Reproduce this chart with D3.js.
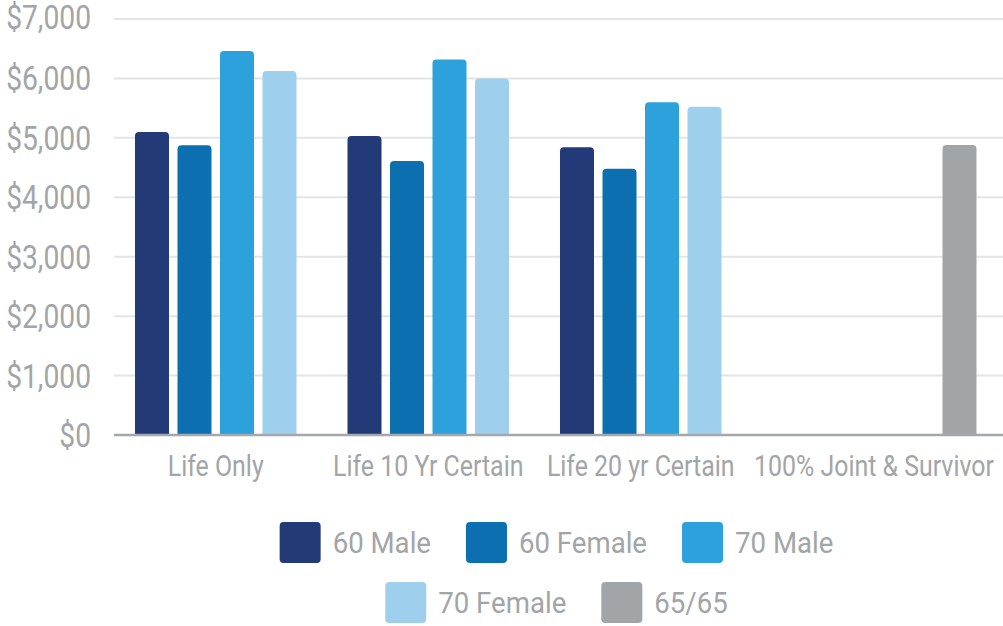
<!DOCTYPE html>
<html><head><meta charset="utf-8">
<script src="https://cdn.jsdelivr.net/npm/d3@7"></script>
<style>
body{margin:0;background:#fff}
text{font-family:Roboto, "Liberation Sans", sans-serif; fill:#a2a5a8}
</style></head>
<body><svg id="c" width="1003" height="626"></svg>
<script>
const categories = ["Life Only", "Life 10 Yr Certain", "Life 20 yr Certain", "100% Joint & Survivor"];
const seriesNames = ["60 Male", "60 Female", "70 Male", "70 Female", "65/65"];
const male60   = [5100, 5030, 4840, null];
const female60 = [4875, 4610, 4480, null];
const male70   = [6460, 6320, 5600, null];
const female70 = [6125, 6000, 5525, null];
const both6565 = [null, null, null, 4880];
const yTicks = [0, 1000, 2000, 3000, 4000, 5000, 6000, 7000];
const colors = ["#233a78", "#0c70b0", "#2ca1dc", "#9ed0ee", "#a2a5a8"];

const seriesValues = [male60, female60, male70, female70, both6565];

const svg = d3.select("#c");
function condense(sel, k){
  sel.each(function(){
    const l = this.getComputedTextLength();
    d3.select(this).attr("textLength", l*k).attr("lengthAdjust","spacingAndGlyphs");
  });
}

const y = d3.scaleLinear().domain([0, 7000]).range([435, 19]);
const x0 = d3.scaleBand().domain(categories).range([130.75, 980.75]).padding(0);
const x1 = d3.scaleBand().domain(seriesNames).range([0, x0.bandwidth()]).paddingInner(0.2).paddingOuter(0.1);

// gridlines
svg.append("g").selectAll("line").data(yTicks.filter(d=>d>0)).join("line")
  .attr("x1",114).attr("x2",1003).attr("y1",d=>y(d)).attr("y2",d=>y(d))
  .attr("stroke","#e4e4e4").attr("stroke-width",2);

// y labels
svg.append("g").selectAll("text").data(yTicks).join("text")
  .attr("x",91).attr("y",d=>y(d) + (d===7000?-2:0))
  .attr("dy","0.355em").attr("text-anchor","end")
  .style("font-size","34px")
  .text(d=>d3.format("$,")(d))
  .call(condense, 0.83);

// bars
function topRounded(x, yTop, w, h, r){
  r = Math.min(r, h, w/2);
  return `M${x},${yTop+h}V${yTop+r}Q${x},${yTop} ${x+r},${yTop}H${x+w-r}Q${x+w},${yTop} ${x+w},${yTop+r}V${yTop+h}Z`;
}
const rows = [];
categories.forEach((c,ci)=>{
  seriesNames.forEach((s,si)=>{
    const v = seriesValues[si][ci];
    if(v!=null) rows.push({c, s, v, color: colors[si]});
  });
});
svg.append("g").selectAll("path").data(rows).join("path")
  .attr("d", d=>topRounded(x0(d.c)+x1(d.s), y(d.v), x1.bandwidth(), y(0)-y(d.v), 4))
  .attr("fill", d=>d.color);

// baseline
svg.append("line").attr("x1",114).attr("x2",1003).attr("y1",y(0)).attr("y2",y(0))
  .attr("stroke","#a5a8ab").attr("stroke-width",2.5);

// category labels: centred on present bars, clamped to chart edge
const catG = svg.append("g");
categories.forEach((c)=>{
  const present = rows.filter(r=>r.c===c).map(r=>x0(c)+x1(r.s)+x1.bandwidth()/2);
  let cx = d3.mean(present);
  const t = catG.append("text").attr("y",476).attr("text-anchor","middle")
    .style("font-size","30px").text(c);
  condense(t, 0.83);
  const w = +t.attr("textLength");
  if(cx + w/2 > 994) cx = 994 - w/2;
  t.attr("x", cx);
});

// legend
const legendRows = [[0,1,2],[3,4]];
const sq = 41, gapT = 12, gapItem = 35, centerX = 556.5;
legendRows.forEach((row,ri)=>{
  const g = svg.append("g");
  const top = 522 + ri*60;
  let xPos = 0;
  row.forEach(i=>{
    g.append("rect").attr("x",xPos).attr("y",top).attr("width",sq).attr("height",sq)
      .attr("rx",4).attr("fill",colors[i]);
    const t = g.append("text").attr("x",xPos+sq+gapT).attr("y",top+31)
      .style("font-size","30px").text(seriesNames[i]);
    condense(t, 0.92);
    xPos += sq + gapT + (+t.attr("textLength")) + gapItem;
  });
  const total = xPos - gapItem;
  g.attr("transform",`translate(${centerX - total/2},0)`);
});
</script>
</body></html>
